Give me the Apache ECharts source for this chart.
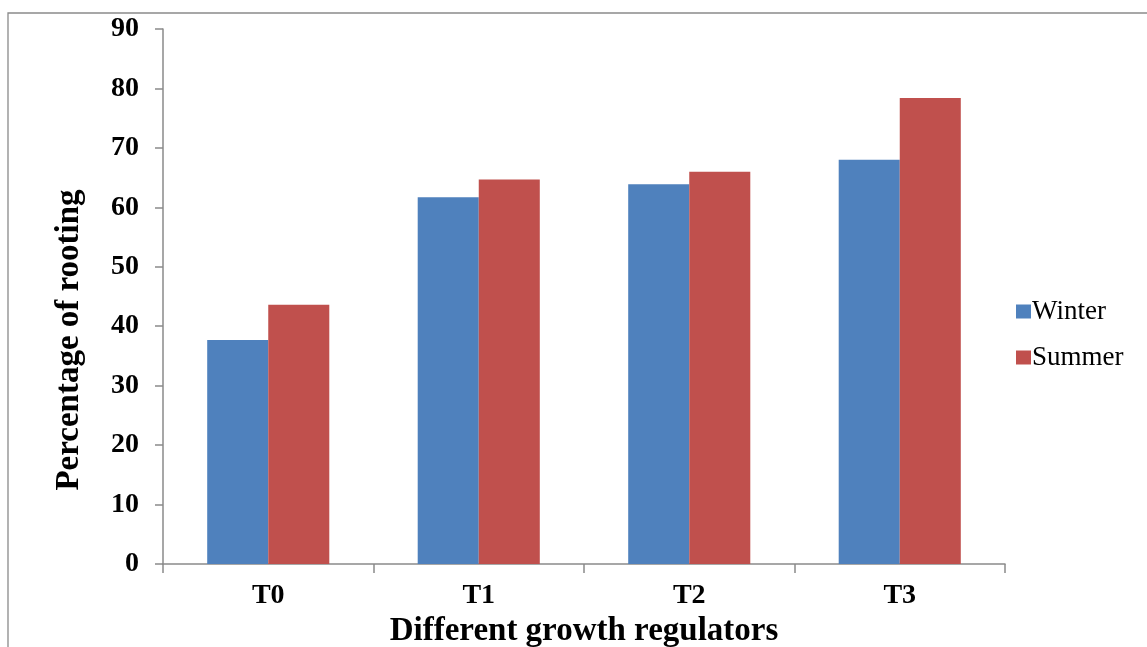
<!DOCTYPE html>
<html><head><meta charset="utf-8">
<script src="https://cdn.jsdelivr.net/npm/echarts@6/dist/echarts.min.js"></script>
<style>html,body{margin:0;padding:0;background:#fff}#c{width:1147px;height:647px}</style>
</head><body><div id="c"></div>
<script>
const categories = ['T0', 'T1', 'T2', 'T3'];
const winter = [37.7, 61.7, 63.9, 68.0];
const summer = [43.6, 64.7, 66.0, 78.4];
const yTicks = [0, 10, 20, 30, 40, 50, 60, 70, 80, 90];
const yTitle = 'Percentage of rooting';
const xTitle = 'Different growth regulators';

const chart = echarts.init(document.getElementById('c'), null, {renderer: 'canvas'});
const font = '"Liberation Serif", "Times New Roman", serif';
chart.setOption({
  animation: false,
  backgroundColor: '#fff',
  graphic: [{
    type: 'rect', shape: {x: 8, y: 13, width: 1160, height: 660},
    style: {fill: 'none', stroke: '#8a8a8a', lineWidth: 1.3}, silent: true
  }, {
    type: 'text', x: 69, y: 340, rotation: Math.PI / 2,
    style: {text: yTitle, font: 'bold 33px ' + font, fill: '#000', align: 'center', verticalAlign: 'middle'},
    silent: true
  }],
  grid: {left: 163, right: 142, top: 29, bottom: 83, containLabel: false, outerBoundsMode: 'none'},
  legend: {
    orient: 'vertical', left: 1011, top: 293, itemGap: 19,
    itemWidth: 15, itemHeight: 14, icon: 'rect',
    textStyle: {fontFamily: font, fontSize: 27, color: '#000', padding: [0, 0, 0, -4]},
    data: ['Winter', 'Summer']
  },
  xAxis: {
    type: 'category', data: categories,
    name: xTitle, nameLocation: 'middle', nameGap: 48,
    nameTextStyle: {fontFamily: font, fontSize: 33, fontWeight: 'bold', color: '#000'},
    axisLine: {lineStyle: {color: '#8a8a8a', width: 1.5}},
    axisTick: {show: true, alignWithLabel: false, length: 9, lineStyle: {color: '#8a8a8a', width: 1.5}},
    axisLabel: {fontFamily: font, fontSize: 28, fontWeight: 'bold', color: '#000', margin: 18}
  },
  yAxis: {
    type: 'value', min: yTicks[0], max: yTicks[yTicks.length - 1], interval: 10,
    axisLine: {show: true, lineStyle: {color: '#8a8a8a', width: 1.5}},
    axisTick: {show: true, length: 8, lineStyle: {color: '#8a8a8a', width: 1.5}},
    splitLine: {show: false},
    axisLabel: {fontFamily: font, fontSize: 28, fontWeight: 'bold', color: '#000', margin: 24}
  },
  series: [
    {name: 'Winter', type: 'bar', data: winter, barGap: '0%', barCategoryGap: '42%',
     itemStyle: {color: '#4F81BD'}},
    {name: 'Summer', type: 'bar', data: summer, barGap: '0%', barCategoryGap: '42%',
     itemStyle: {color: '#C0504D'}}
  ]
});
</script></body></html>
